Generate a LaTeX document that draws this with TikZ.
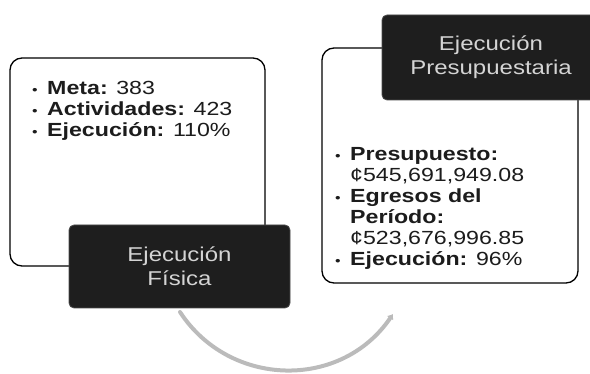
\documentclass[tikz,border=0pt]{standalone}
\usepackage{fontspec}
\usepackage{graphicx}
\setmainfont{Liberation Sans}
\usetikzlibrary{%
  arrows.meta%
}
\definecolor{bannerfill}{HTML}{1E1E1E}
\definecolor{bannertext}{HTML}{D4D4D4}
\definecolor{flowgray}{HTML}{BBBBBB}
\definecolor{inktext}{HTML}{1C1C1C}
% text in the picture is wider than plain Arial
\newcommand{\wide}[1]{\scalebox{1.22}[1]{#1}}
\newcommand{\widebanner}[1]{\scalebox{1.2}[1]{#1}}
\newcommand{\bul}{\makebox[12.3pt][l]{\fontsize{13}{13}\selectfont •}}
\newcommand{\cont}{\hspace*{12.3pt}}

\begin{document}
\begin{tikzpicture}[
    x=1pt,y=-1pt,
    line join=round,line cap=round,
    panel/.style={rectangle,draw=black,line width=1.3pt,fill=white,rounded corners=12pt},
    banner/.style={rectangle,draw=gray!60!black,line width=0.8pt,fill=bannerfill,
        rounded corners=5pt,text=bannertext,align=center,
        font=\fontsize{20}{24}\selectfont},
    listtext/.style={anchor=north west,inner sep=0pt,align=left,text=inktext,
        font=\fontsize{19}{21}\selectfont},
    flow/.style={draw=flowgray,line width=4pt,-{Latex[length=5pt,width=8pt]}}
  ]
    \useasboundingbox (0,0) rectangle (590,374);

    \node [panel,minimum width=255pt,minimum height=208pt] (fispanel)  at (137.5,162)   {};
    \node [panel,minimum width=256pt,minimum height=235pt] (prespanel) at (450,165.5)   {};

    \node [banner,minimum width=221pt,minimum height=83pt] (fisbanner)  at (179.5,266.5)
        {\widebanner{Ejecución}\\\widebanner{Física}};
    \node [banner,minimum width=218pt,minimum height=85pt] (presbanner) at (491,57.5)
        {\widebanner{Ejecución}\\\widebanner{Presupuestaria}};

    \node [listtext] (fislist) at (32,81)
        {\wide{\bul\textbf{Meta:} 383}\\
         \wide{\bul\textbf{Actividades:} 423}\\
         \wide{\bul\textbf{Ejecución:} 110\%}};
    \node [listtext] (preslist) at (335,147)
        {\wide{\bul\textbf{Presupuesto:}}\\
         \wide{\cont ¢545,691,949.08}\\
         \wide{\bul\textbf{Egresos del}}\\
         \wide{\cont\textbf{Período:}}\\
         \wide{\cont ¢523,676,996.85}\\
         \wide{\bul\textbf{Ejecución:} 96\%}};

    % curved gray arrow under the banners
    \coordinate (flowstart) at (180,312);
    \coordinate (flowend)   at (393,314);
    \draw [flow] (flowstart) .. controls (229.6,387.8) and (341.2,390.3) .. (flowend);
\end{tikzpicture}
\end{document}
